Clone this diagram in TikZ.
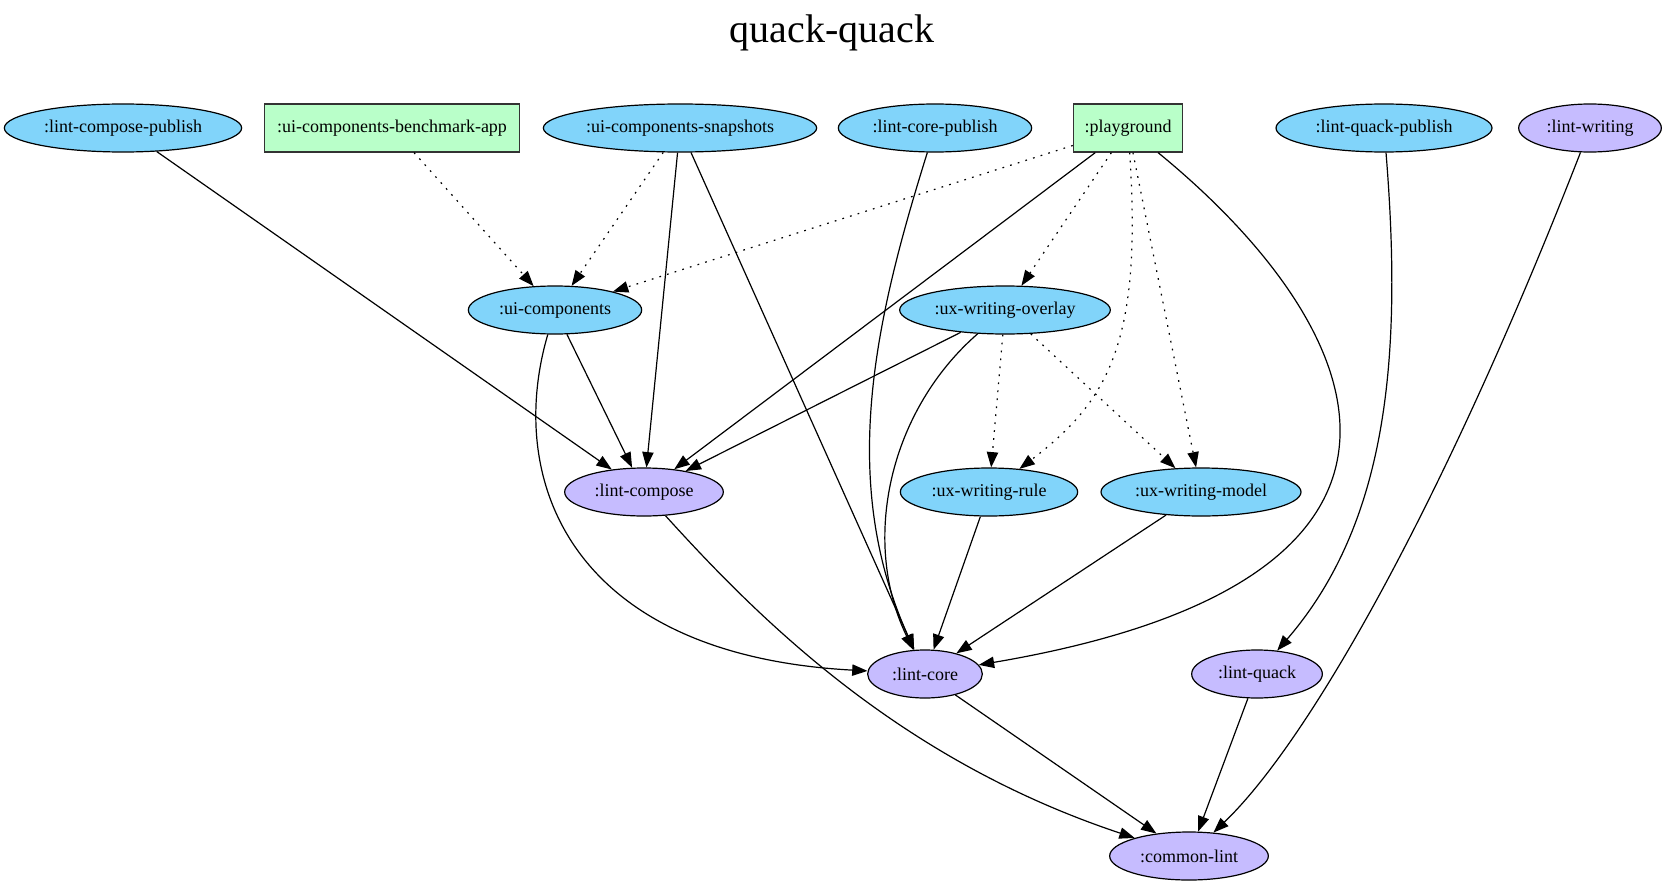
\documentclass[tikz,border=0pt]{standalone}
\usepackage{fontspec}
\setmainfont{Liberation Serif}
\usetikzlibrary{shapes,arrows.meta}
\definecolor{modblue}{HTML}{81D4FA}
\definecolor{lintlilac}{HTML}{C6BCFF}
\definecolor{appgreen}{HTML}{B9FFC9}
\tikzstyle{bnode}=[ellipse, draw=black, fill=modblue, line width=0.9pt, inner sep=0pt,
                    minimum height=36pt, font=\fontsize{13.5}{16}\selectfont]
\tikzstyle{pnode}=[bnode, fill=lintlilac]
\tikzstyle{gbox}=[rectangle, draw=black!80, fill=appgreen, line width=0.9pt,
 minimum height=36pt, inner sep=0pt, font=\fontsize{13.5}{16}\selectfont]
\tikzstyle{dep}=[-{Triangle[length=11.5pt,width=8.5pt]}, line width=0.9pt]
\tikzstyle{impl}=[dep, dash pattern=on 1.3pt off 4.7pt]

\begin{document}
\begin{tikzpicture}[x=0.75pt, y=-0.75pt]
\useasboundingbox (0,0) rectangle (1665,888);

\node (TITLE) at (832,33) {\fontsize{30}{36}\selectfont quack-quack};

% top row
\node (LCP) [bnode, minimum width=178pt] at (123,128) {:lint-compose-publish};
\node (UCBA) [gbox, minimum width=191pt] at (392,128) {:ui-components-benchmark-app};
\node (UCS) [bnode, minimum width=205pt] at (680,128) {:ui-components-snapshots};
\node (LCOREP) [bnode, minimum width=145pt] at (935,128) {:lint-core-publish};
\node (PG) [gbox, minimum width=82pt] at (1128,128) {:playground};
\node (LQP) [bnode, minimum width=162pt] at (1384,128) {:lint-quack-publish};
\node (LW) [pnode, minimum width=107pt] at (1590,128) {:lint-writing};

% middle rows
\node (UC) [bnode, minimum width=130pt] at (555,310) {:ui-components};
\node (UXWO) [bnode, minimum width=158pt] at (1005,310) {:ux-writing-overlay};
\node (LC) [pnode, minimum width=119pt] at (644,492) {:lint-compose};
\node (UXWR) [bnode, minimum width=133pt] at (989,492) {:ux-writing-rule};
\node (UXWM) [bnode, minimum width=150pt] at (1201,492) {:ux-writing-model};
\node (LCORE) [pnode, minimum width=86pt] at (925,674) {:lint-core};
\node (LQ) [pnode, minimum width=98pt] at (1257,674) {:lint-quack};
\node (CL) [pnode, minimum width=119pt] at (1189,856) {:common-lint};

% dependencies
\draw[dep] (LCP) -- (LC);
\draw[impl] (UCBA) -- (UC);
\draw[impl] (UCS) -- (UC);
\draw[dep] (UCS) -- (LC);
\draw[dep] (UCS) -- (LCORE);
\draw[dep] (LCOREP) .. controls (875,320) and (838,480) .. (LCORE);
\draw[impl] (PG) -- (UC);
\draw[dep] (PG) -- (LC);
\draw[impl] (PG) -- (UXWO);
\draw[impl] (PG) .. controls (1142,340) and (1110,400) .. (UXWR);
\draw[impl] (PG) -- (UXWM);
\draw[dep] (PG) .. controls (1375,330) and (1480,580) .. (LCORE);
\draw[dep] (LQP) .. controls (1402,350) and (1390,520) .. (LQ);
\draw[dep] (LW) .. controls (1445,500) and (1310,740) .. (CL);
\draw[dep] (UC) -- (LC);
\draw[dep] (UC) .. controls (505,480) and (570,655) .. (LCORE);
\draw[dep] (UXWO) -- (LC);
\draw[dep] (UXWO) .. controls (890,410) and (860,540) .. (LCORE);
\draw[impl] (UXWO) -- (UXWR);
\draw[impl] (UXWO) -- (UXWM);
\draw[dep] (UXWR) -- (LCORE);
\draw[dep] (UXWM) -- (LCORE);
\draw[dep] (LC) .. controls (760,620) and (900,760) .. (CL);
\draw[dep] (LCORE) -- (CL);
\draw[dep] (LQ) -- (CL);

\end{tikzpicture}
\end{document}
